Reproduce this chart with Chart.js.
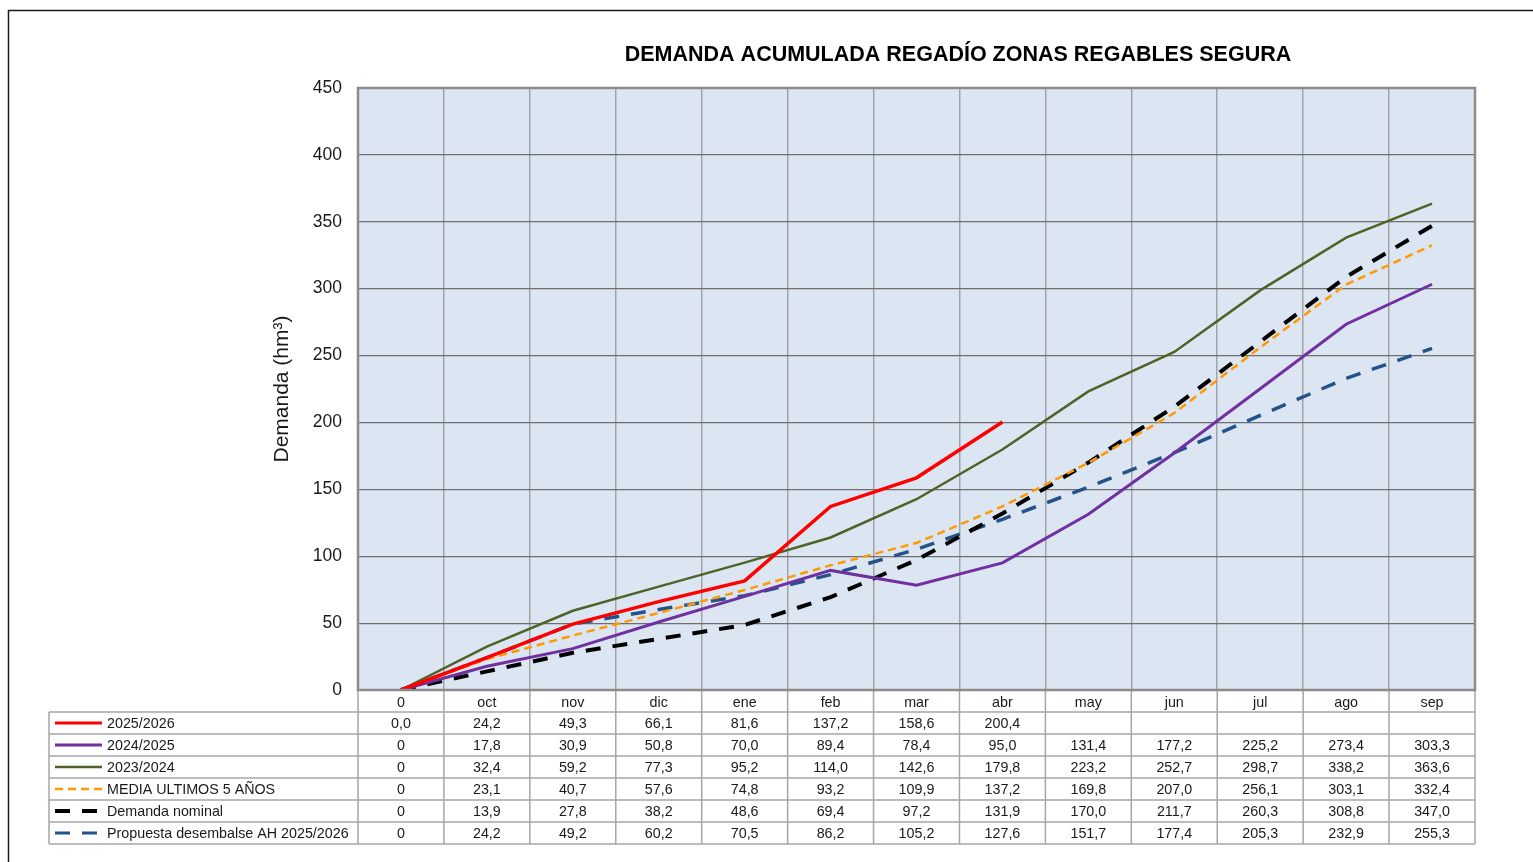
<!DOCTYPE html>
<html lang="es">
<head>
<meta charset="utf-8">
<title>Demanda acumulada regadío</title>
<script src="https://cdn.jsdelivr.net/npm/chart.js@4.4.1/dist/chart.umd.min.js"></script>
<style>
  html, body { margin: 0; padding: 0; background: #fff; }
  #wrap { width: 1533px; height: 862px; }
</style>
</head>
<body>
<div id="wrap"><canvas id="chart-demanda" width="1533" height="862"></canvas></div>
<script>
/* ── datos ── */
const meses = ['0', 'oct', 'nov', 'dic', 'ene', 'feb', 'mar', 'abr', 'may', 'jun', 'jul', 'ago', 'sep'];
const yTicks = [0, 50, 100, 150, 200, 250, 300, 350, 400, 450];

const serie2526 = [0, 24.2, 49.3, 66.1, 81.6, 137.2, 158.6, 200.4, null, null, null, null, null];
const serie2425 = [0, 17.8, 30.9, 50.8, 70.0, 89.4, 78.4, 95.0, 131.4, 177.2, 225.2, 273.4, 303.3];
const serie2324 = [0, 32.4, 59.2, 77.3, 95.2, 114.0, 142.6, 179.8, 223.2, 252.7, 298.7, 338.2, 363.6];
const mediaUlt5 = [0, 23.1, 40.7, 57.6, 74.8, 93.2, 109.9, 137.2, 169.8, 207.0, 256.1, 303.1, 332.4];
const demandaNominal = [0, 13.9, 27.8, 38.2, 48.6, 69.4, 97.2, 131.9, 170.0, 211.7, 260.3, 308.8, 347.0];
const propuestaAH = [0, 24.2, 49.2, 60.2, 70.5, 86.2, 105.2, 127.6, 151.7, 177.4, 205.3, 232.9, 255.3];

// primera columna de la tabla tal y como aparece
const primeraCelda = ['0,0', '0', '0', '0', '0', '0'];

const FONT = 'Liberation Sans, Arial, sans-serif';

function fmt(v) {
  if (v === null || v === undefined) return '';
  return v.toFixed(1).replace('.', ',');
}

/* ── tabla de datos + marco + título ── */
const tablaPlugin = {
  id: 'tabla',
  beforeDraw(chart) {
    const { ctx, chartArea: a } = chart;
    ctx.save();
    ctx.fillStyle = '#ffffff';
    ctx.fillRect(0, 0, chart.width, chart.height);
    ctx.fillStyle = '#dce6f2';
    ctx.fillRect(a.left, a.top, a.right - a.left, a.bottom - a.top);
    ctx.restore();
  },
  afterDraw(chart) {
    const { ctx, chartArea: a } = chart;
    const xs = chart.scales.x;
    const n = meses.length;
    const colW = (a.right - a.left) / n;
    const rowH = 22;
    const top = a.bottom + rowH;         // primera fila de series
    const nRows = chart.data.datasets.length;
    const bottom = top + nRows * rowH;
    const leftT = 49;

    ctx.save();
    // marco exterior
    ctx.strokeStyle = '#1a1a1a';
    ctx.lineWidth = 1.5;
    ctx.beginPath();
    ctx.moveTo(8.5, chart.height);
    ctx.lineTo(8.5, 10.5);
    ctx.lineTo(chart.width, 10.5);
    ctx.stroke();

    // título
    ctx.fillStyle = '#000';
    ctx.font = 'bold 21.5px ' + FONT;
    ctx.textAlign = 'center';
    ctx.textBaseline = 'middle';
    ctx.fillText('DEMANDA ACUMULADA REGADÍO ZONAS REGABLES SEGURA', 958, 55);

    // rejilla de la tabla
    ctx.strokeStyle = '#a6a6a6';
    ctx.lineWidth = 1.5;
    ctx.beginPath();
    for (let i = 0; i <= nRows; i++) {
      const y = top + i * rowH;
      ctx.moveTo(leftT, y);
      ctx.lineTo(a.right, y);
    }
    ctx.moveTo(leftT, top);
    ctx.lineTo(leftT, bottom);
    for (let i = 0; i <= n; i++) {
      const x = a.left + i * colW;
      ctx.moveTo(x, a.bottom);
      ctx.lineTo(x, bottom);
    }
    ctx.stroke();

    // borde del área de trazado
    ctx.strokeStyle = '#8c8c8c';
    ctx.lineWidth = 2.5;
    ctx.strokeRect(a.left, a.top, a.right - a.left, a.bottom - a.top);

    // filas: leyenda + valores
    ctx.font = '14.3px ' + FONT;
    chart.data.datasets.forEach((ds, r) => {
      const yc = top + r * rowH + rowH / 2;
      ctx.strokeStyle = ds.borderColor;
      ctx.lineWidth = ds.legendWidth;
      ctx.setLineDash(ds.borderDash || []);
      ctx.beginPath();
      ctx.moveTo(55, yc);
      ctx.lineTo(102, yc);
      ctx.stroke();
      ctx.setLineDash([]);

      ctx.fillStyle = '#1a1a1a';
      ctx.textAlign = 'left';
      ctx.fillText(ds.label, 107, yc + 1);

      ctx.textAlign = 'center';
      ds.data.forEach((v, i) => {
        const txt = i === 0 ? primeraCelda[r] : fmt(v);
        ctx.fillText(txt, xs.getPixelForValue(i), yc + 1);
      });
    });
    ctx.restore();
  }
};

const ctx = document.getElementById('chart-demanda');
new Chart(ctx, {
  type: 'line',
  data: {
    labels: meses,
    datasets: [
      {
        label: '2025/2026', data: serie2526,
        borderColor: '#ff0000', borderWidth: 3.5, legendWidth: 3
      },
      {
        label: '2024/2025', data: serie2425,
        borderColor: '#7030a0', borderWidth: 3, legendWidth: 3
      },
      {
        label: '2023/2024', data: serie2324,
        borderColor: '#4f6228', borderWidth: 2.5, legendWidth: 2.5
      },
      {
        label: 'MEDIA ULTIMOS 5 AÑOS', data: mediaUlt5,
        borderColor: '#ff9900', borderWidth: 2.5, borderDash: [8, 5], legendWidth: 2.5
      },
      {
        label: 'Demanda nominal', data: demandaNominal,
        borderColor: '#000000', borderWidth: 4, borderDash: [15, 12], legendWidth: 4
      },
      {
        label: 'Propuesta desembalse AH 2025/2026', data: propuestaAH,
        borderColor: '#24528a', borderWidth: 3.5, borderDash: [15, 12], legendWidth: 3
      }
    ]
  },
  options: {
    responsive: false,
    animation: false,
    spanGaps: false,
    elements: {
      point: { radius: 0, hoverRadius: 0 },
      line: { tension: 0, fill: false }
    },
    layout: { padding: { left: 258, right: 58, top: 88, bottom: 18 } },
    plugins: {
      legend: { display: false },
      title: { display: false },
      tooltip: { enabled: false }
    },
    scales: {
      x: {
        type: 'category',
        offset: true,
        border: { display: false },
        grid: { offset: true, color: '#a3a3a3', lineWidth: 1.5, drawTicks: false },
        ticks: {
          padding: 4, color: '#1a1a1a', maxRotation: 0, autoSkip: false,
          font: { size: 14.3, family: FONT }
        },
        afterFit: (s) => { s.height = 154; }
      },
      y: {
        min: 0,
        max: 450,
        border: { display: false },
        afterBuildTicks: (s) => { s.ticks = yTicks.map(v => ({ value: v })); },
        grid: { color: '#6e6e6e', lineWidth: 1.2, drawTicks: false },
        ticks: {
          padding: 16, color: '#1a1a1a',
          font: { size: 17.5, family: FONT }
        },
        title: {
          display: true,
          text: 'Demanda (hm³)',
          color: '#1a1a1a',
          font: { size: 21, family: FONT },
          padding: { top: 12, bottom: 0 }
        },
        afterFit: (s) => { s.width = 100; }
      }
    }
  },
  plugins: [tablaPlugin]
});
</script>
</body>
</html>
